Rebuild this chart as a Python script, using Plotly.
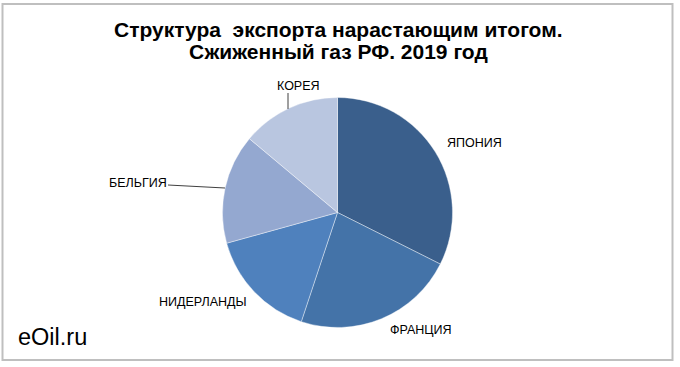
import plotly.graph_objects as go

countries = ["ЯПОНИЯ", "ФРАНЦИЯ", "НИДЕРЛАНДЫ", "БЕЛЬГИЯ", "КОРЕЯ"]
shares = [32.4, 22.7, 15.6, 15.4, 13.9]
colors = ["#3A5F8C", "#4473A8", "#4F81BD", "#94A8D0", "#B9C6E0"]
title_lines = ["Структура  экспорта нарастающим итогом.", "Сжиженный газ РФ. 2019 год"]

W, H = 680, 367
def px(x):
    return x / W
def py(y):
    return (H - y) / H

cx, cy, r = 337.5, 212.5, 115

fig = go.Figure(go.Pie(
    labels=countries, values=shares, sort=False, direction="clockwise",
    rotation=0, textinfo="none", hoverinfo="label+percent",
    marker=dict(colors=colors, line=dict(color="rgba(255,255,255,0.4)", width=1)),
    domain=dict(x=[px(cx - r), px(cx + r)], y=[py(cy + r), py(cy - r)]),
    showlegend=False,
))

lab_font = dict(family="Liberation Sans, Arial", size=12.5, color="#000000")
label_pos = {
    "ЯПОНИЯ": (474, 143),
    "ФРАНЦИЯ": (421, 330),
    "НИДЕРЛАНДЫ": (203, 302),
    "БЕЛЬГИЯ": (138, 183),
    "КОРЕЯ": (298, 86),
}
annotations = []
for name in countries:
    x, y = label_pos[name]
    annotations.append(dict(x=px(x), y=py(y), xref="paper", yref="paper", text=name,
                            showarrow=False, font=lab_font, xanchor="center", yanchor="middle"))

for line, ty in zip(title_lines, [30, 52]):
    annotations.append(dict(x=px(338), y=py(ty), xref="paper", yref="paper",
                            text="<b>" + line + "</b>",
                            showarrow=False, align="center", xanchor="center", yanchor="middle",
                            font=dict(family="Liberation Sans, Arial", size=21, color="#000000")))
annotations.append(dict(x=px(16), y=py(337), xref="paper", yref="paper", text="eOil.ru",
                        showarrow=False, xanchor="left", yanchor="middle",
                        font=dict(family="Liberation Sans, Arial", size=23.5, color="#000000")))

shapes = [
    dict(type="rect", xref="paper", yref="paper", x0=px(2.5), x1=px(672.5), y0=py(360), y1=py(4),
         line=dict(color="#BFBFBF", width=2), fillcolor="rgba(0,0,0,0)"),
    dict(type="line", xref="paper", yref="paper", x0=px(168), y0=py(185), x1=px(225), y1=py(188),
         line=dict(color="#404040", width=1)),
    dict(type="line", xref="paper", yref="paper", x0=px(288), y0=py(93), x1=px(288), y1=py(109),
         line=dict(color="#404040", width=1)),
]

fig.update_layout(
    width=W, height=H, margin=dict(l=0, r=0, t=0, b=0),
    paper_bgcolor="white", plot_bgcolor="white",
    annotations=annotations, shapes=shapes,
)

fig.write_html("out.html", config={"displayModeBar": False},
               post_script="document.body.style.margin='0';")
